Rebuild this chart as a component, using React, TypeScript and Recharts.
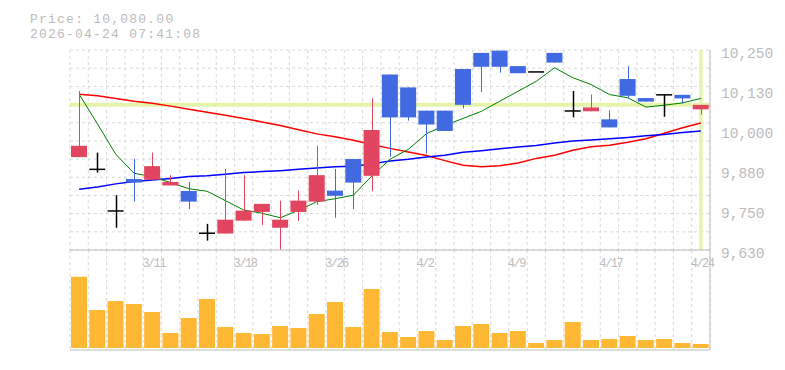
import React from 'react';
import {
  ComposedChart,
  BarChart,
  Bar,
  Line,
  XAxis,
  YAxis,
  CartesianGrid,
  ReferenceLine,
} from 'recharts';

// trading days shown (last 35 sessions)
const dates = [
  '3/5', '3/6', '3/9', '3/10', '3/11', '3/12', '3/13', '3/16', '3/17', '3/18',
  '3/19', '3/23', '3/24', '3/25', '3/26', '3/27', '3/30', '3/31', '4/1', '4/2',
  '4/3', '4/6', '4/7', '4/8', '4/9', '4/10', '4/13', '4/14', '4/15', '4/17',
  '4/20', '4/21', '4/22', '4/23', '4/24',
];
const tickDates = ['3/11', '3/18', '3/26', '4/2', '4/9', '4/17', '4/24'];

const opens = [
  9918, 9880, 9751, 9850, 9848, 9830, 9813, 9682, 9681, 9721,
  9748, 9699, 9748, 9780, 9814, 9912, 9860, 10174, 10134, 10062,
  10062, 10191, 10241, 10248, 10200, 10182, 10241, 10061, 10060, 10035,
  10160, 10101, 10111, 10111, 10066,
];
const highs = [
  10123, 9932, 9800, 9912, 9932, 9862, 9841, 9711, 9881, 9862,
  9773, 9783, 9814, 9953, 9881, 9912, 10101, 10174, 10134, 10062,
  10062, 10191, 10241, 10248, 10200, 10182, 10241, 10123, 10112, 10063,
  10200, 10101, 10111, 10111, 10080,
];
const lows = [
  9918, 9870, 9699, 9780, 9848, 9830, 9757, 9659, 9681, 9721,
  9708, 9632, 9720, 9770, 9730, 9757, 9812, 9919, 10031, 9929,
  9999, 10069, 10120, 10180, 10178, 10182, 10211, 10041, 10060, 10010,
  10100, 10090, 10043, 10084, 10050,
];
const closes = [
  9953, 9880, 9751, 9839, 9890, 9841, 9780, 9682, 9724, 9752,
  9773, 9724, 9783, 9862, 9798, 9839, 10002, 10041, 10041, 10019,
  9999, 10080, 10198, 10198, 10178, 10182, 10211, 10061, 10072, 10010,
  10108, 10090, 10111, 10100, 10080,
];
const volumes = [
  71300, 38000, 47000, 44000, 36000, 15000, 30000, 49000, 21000, 15000,
  14000, 22000, 20000, 34000, 46000, 21000, 59000, 16000, 11000, 17000,
  8000, 22000, 24000, 15000, 17000, 5000, 8000, 26000, 8000, 9000,
  12000, 8000, 9000, 5000, 4000,
];
const ma5 = [
  10113, 10021, 9927, 9868, 9857, 9839, 9820, 9812, 9783, 9754,
  9744, 9730, 9753, 9780, 9789, 9800, 9859, 9911, 9942, 9991,
  10016, 10038, 10060, 10091, 10122, 10153, 10195, 10164, 10143, 10112,
  10102, 10073, 10079, 10086, 10100,
];
const ma25 = [
  9818, 9825, 9835, 9842, 9847, 9852, 9858, 9860, 9865, 9870,
  9873, 9876, 9880, 9884, 9888, 9890, 9897, 9906, 9911, 9918,
  9924, 9933, 9938, 9944, 9949, 9954, 9962, 9968, 9971, 9975,
  9979, 9984, 9988, 9994, 9999,
];
const ma75 = [
  10113, 10108, 10100, 10091, 10085, 10076, 10066, 10057, 10048, 10038,
  10027, 10016, 10003, 9990, 9981, 9970, 9957, 9945, 9934, 9923,
  9907, 9893, 9888, 9891, 9900, 9914, 9924, 9939, 9950, 9955,
  9964, 9975, 9992, 10009, 10024,
];
const yTicks = [9630, 9754, 9878, 10002, 10126, 10250];
const lastPrice = 10080;
const lastTime = '2026-04-24 07:41:08';

const rows = dates.map((date, i) => ({
  date,
  open: opens[i],
  high: highs[i],
  low: lows[i],
  close: closes[i],
  volume: volumes[i],
  ma5: ma5[i],
  ma25: ma25[i],
  ma75: ma75[i],
}));

const W = 785;
const LEFT = 70;
const AXIS_W = 75;
const BAND = (W - LEFT - AXIS_W) / dates.length;

const UP = '#e2455f';
const DOWN = '#4169e1';
const GRID = '#d9d9d9';
const AXIS = '#bdbdbd';
const TEXT = '#bcbcbc';
const CROSS = '#e4f4a8';
const MONO = '"Liberation Mono", "DejaVu Sans Mono", monospace';

const fmt = (v: number) => (Math.round(v / 10) * 10).toLocaleString('en-US');

const Candle = (props: any) => {
  const { x, y, width, height, payload } = props;
  const { open, close, high, low } = payload;
  const k = high > low ? height / (high - low) : 0;
  const py = (v: number) => y + (high - v) * k;
  const cx = Math.round(x + width / 2) + 0.5;
  if (open === close) {
    return (
      <g>
        {high > low && (
          <line x1={cx} x2={cx} y1={py(high)} y2={py(low)} stroke="#000" strokeWidth={1.5} />
        )}
        <line x1={x} x2={x + width} y1={py(open)} y2={py(open)} stroke="#000" strokeWidth={1.5} />
      </g>
    );
  }
  const color = close > open ? UP : DOWN;
  const top = py(Math.max(open, close));
  const bottom = py(Math.min(open, close));
  return (
    <g>
      <line x1={cx} x2={cx} y1={py(high)} y2={py(low)} stroke={color} strokeWidth={1} />
      <rect x={x} y={top} width={width} height={Math.max(bottom - top, 1)} fill={color} />
    </g>
  );
};

const XTick = (props: any) => {
  const { x, y, payload } = props;
  return (
    <text x={x - BAND / 2 - 1} y={y + 16.5} textAnchor="start" fill={TEXT}
      fontFamily={MONO} fontSize={12} letterSpacing={-1.5}>
      {payload.value}
    </text>
  );
};

const YTick = (props: any) => {
  const { x, y, payload } = props;
  return (
    <text x={x} y={y + 7.5} textAnchor="start" fill={TEXT} fontFamily={MONO} fontSize={14.5}>
      {fmt(payload.value)}
    </text>
  );
};

const vLines = ({ offset }: any) =>
  Array.from({ length: dates.length + 1 }, (_, i) => offset.left + (i * offset.width) / dates.length);
const hLines = ({ offset }: any) =>
  Array.from({ length: 12 }, (_, i) => offset.top + (i * offset.height) / 11);

export default function App() {
  const priceLabel = `Price: ${lastPrice.toLocaleString('en-US', { minimumFractionDigits: 2 })}`;
  return (
    <div style={{ position: 'absolute', left: 0, top: 0, width: W, height: 370, background: '#fff' }}>
      <div style={{ position: 'absolute', left: 0, top: 250 }}>
        <BarChart width={W} height={101} data={rows} margin={{ top: 0, right: 0, bottom: 0, left: LEFT }}>
          <CartesianGrid horizontal={false} stroke={GRID} strokeDasharray="3 3"
            verticalCoordinatesGenerator={vLines} />
          <XAxis dataKey="date" height={1} tick={false} tickLine={false} axisLine={{ stroke: AXIS }} />
          <YAxis orientation="right" width={AXIS_W} domain={[-2000, 98000]} tick={false}
            tickLine={false} axisLine={{ stroke: AXIS }} />
          <Bar dataKey="volume" fill="#ffb833" barSize={16} isAnimationActive={false} />
        </BarChart>
      </div>
      <div style={{ position: 'absolute', left: 0, top: 0 }}>
        <ComposedChart width={W} height={272} data={rows} margin={{ top: 50, right: 0, bottom: 0, left: LEFT }}>
          <CartesianGrid stroke={GRID} strokeDasharray="3 3"
            verticalCoordinatesGenerator={vLines} horizontalCoordinatesGenerator={hLines} />
          <XAxis dataKey="date" ticks={tickDates} interval={0} height={22} tickSize={0} tickMargin={0}
            tickLine={false} axisLine={{ stroke: AXIS }} tick={<XTick />} />
          <YAxis orientation="right" width={AXIS_W} domain={[9630, 10250]} ticks={yTicks}
            tickSize={0} tickMargin={11} tickLine={false} axisLine={{ stroke: AXIS }} tick={<YTick />} />
          <ReferenceLine y={lastPrice} stroke={CROSS} strokeWidth={4} zIndex={-50} />
          <ReferenceLine x={dates[dates.length - 1]} stroke={CROSS} strokeWidth={3.5} zIndex={-50} />
          <Line type="linear" dataKey="ma75" stroke="#ff0000" strokeWidth={1.5} dot={false}
            activeDot={false} isAnimationActive={false} />
          <Line type="linear" dataKey="ma25" stroke="#0000ff" strokeWidth={1.5} dot={false}
            activeDot={false} isAnimationActive={false} />
          <Line type="linear" dataKey="ma5" stroke="#008000" strokeWidth={1} dot={false}
            activeDot={false} isAnimationActive={false} />
          <Bar dataKey={(d: any) => [d.low, d.high]} shape={<Candle />} barSize={16}
            isAnimationActive={false} zIndex={450} />
        </ComposedChart>
      </div>
      <svg width={W} height={45} style={{ position: 'absolute', left: 0, top: 0 }}>
        <text x={30} y={23} fill={TEXT} fontFamily={MONO} fontSize={13}
          textLength={priceLabel.length * 8.95} lengthAdjust="spacing">
          {priceLabel}
        </text>
        <text x={30} y={38} fill={TEXT} fontFamily={MONO} fontSize={13}
          textLength={lastTime.length * 8.95} lengthAdjust="spacing">
          {lastTime}
        </text>
      </svg>
    </div>
  );
}
